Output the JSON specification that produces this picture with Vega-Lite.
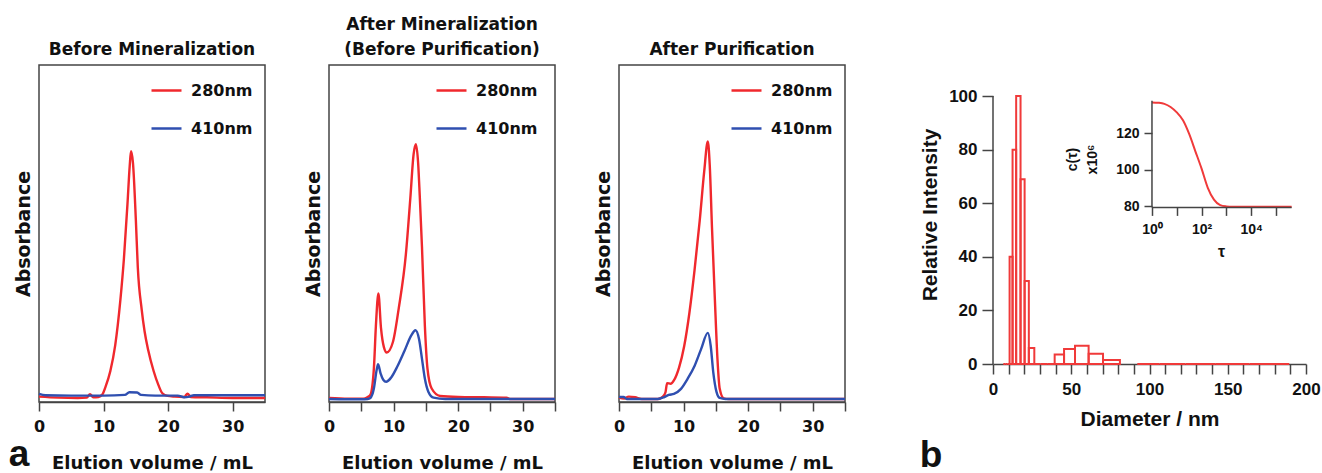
{
  "$schema": "https://vega.github.io/schema/vega-lite/v6.json",
  "background": "white",
  "padding": {"left": 7, "top": 15, "right": 0, "bottom": 0},
  "config": {
    "font": "DejaVu Sans",
    "axis": {"grid": false, "domainColor": "#444", "tickColor": "#444", "labelColor": "#111", "titleColor": "#111", "domainWidth": 1.5, "tickWidth": 1.5, "labelFlush": false, "labelOverlap": false, "labelBound": false},
    "title": {"color": "#111"}
  },
  "datasets": {
    "chrom": [
      {"panel": "before", "series": "280nm", "v": 0, "a": 1.6},
      {"panel": "before", "series": "280nm", "v": 3, "a": 1.3},
      {"panel": "before", "series": "280nm", "v": 6, "a": 1.2},
      {"panel": "before", "series": "280nm", "v": 7.4, "a": 1.3},
      {"panel": "before", "series": "280nm", "v": 7.9, "a": 2.3},
      {"panel": "before", "series": "280nm", "v": 8.4, "a": 1.4},
      {"panel": "before", "series": "280nm", "v": 9.2, "a": 1.5},
      {"panel": "before", "series": "280nm", "v": 9.8, "a": 2.2},
      {"panel": "before", "series": "280nm", "v": 10.3, "a": 4.5},
      {"panel": "before", "series": "280nm", "v": 11.05, "a": 9.2},
      {"panel": "before", "series": "280nm", "v": 11.8, "a": 16.8},
      {"panel": "before", "series": "280nm", "v": 12.6, "a": 30.2},
      {"panel": "before", "series": "280nm", "v": 13.15, "a": 42.5},
      {"panel": "before", "series": "280nm", "v": 13.7, "a": 58.7},
      {"panel": "before", "series": "280nm", "v": 14.05, "a": 70.1},
      {"panel": "before", "series": "280nm", "v": 14.25, "a": 74.4},
      {"panel": "before", "series": "280nm", "v": 14.55, "a": 71},
      {"panel": "before", "series": "280nm", "v": 15.0, "a": 54},
      {"panel": "before", "series": "280nm", "v": 15.3, "a": 40},
      {"panel": "before", "series": "280nm", "v": 15.9, "a": 27.5},
      {"panel": "before", "series": "280nm", "v": 16.35, "a": 21},
      {"panel": "before", "series": "280nm", "v": 16.9, "a": 15.5},
      {"panel": "before", "series": "280nm", "v": 17.75, "a": 9.2},
      {"panel": "before", "series": "280nm", "v": 18.5, "a": 5},
      {"panel": "before", "series": "280nm", "v": 19.1, "a": 2.6},
      {"panel": "before", "series": "280nm", "v": 19.9, "a": 1.8},
      {"panel": "before", "series": "280nm", "v": 21, "a": 1.6},
      {"panel": "before", "series": "280nm", "v": 22.5, "a": 1.5},
      {"panel": "before", "series": "280nm", "v": 23, "a": 2.5},
      {"panel": "before", "series": "280nm", "v": 23.5, "a": 1.5},
      {"panel": "before", "series": "280nm", "v": 26, "a": 1.4},
      {"panel": "before", "series": "280nm", "v": 30, "a": 1.2},
      {"panel": "before", "series": "280nm", "v": 35, "a": 1.2},
      {"panel": "before", "series": "410nm", "v": 0, "a": 2.4},
      {"panel": "before", "series": "410nm", "v": 1, "a": 2.0},
      {"panel": "before", "series": "410nm", "v": 5, "a": 1.9},
      {"panel": "before", "series": "410nm", "v": 10, "a": 1.9},
      {"panel": "before", "series": "410nm", "v": 13.3, "a": 2.1},
      {"panel": "before", "series": "410nm", "v": 14, "a": 2.9},
      {"panel": "before", "series": "410nm", "v": 15.2, "a": 2.8},
      {"panel": "before", "series": "410nm", "v": 15.8, "a": 2.1},
      {"panel": "before", "series": "410nm", "v": 18, "a": 1.9},
      {"panel": "before", "series": "410nm", "v": 21.5, "a": 1.9},
      {"panel": "before", "series": "410nm", "v": 22.5, "a": 1.4},
      {"panel": "before", "series": "410nm", "v": 23.3, "a": 1.6},
      {"panel": "before", "series": "410nm", "v": 24, "a": 2.0},
      {"panel": "before", "series": "410nm", "v": 30, "a": 2.0},
      {"panel": "before", "series": "410nm", "v": 35, "a": 2.0},
      {"panel": "after", "series": "280nm", "v": 0, "a": 1.2},
      {"panel": "after", "series": "280nm", "v": 3, "a": 1.0},
      {"panel": "after", "series": "280nm", "v": 5.3, "a": 1.0},
      {"panel": "after", "series": "280nm", "v": 6.0, "a": 1.5},
      {"panel": "after", "series": "280nm", "v": 6.4, "a": 2.1},
      {"panel": "after", "series": "280nm", "v": 6.95, "a": 9.9},
      {"panel": "after", "series": "280nm", "v": 7.26, "a": 22.5},
      {"panel": "after", "series": "280nm", "v": 7.65, "a": 32.2},
      {"panel": "after", "series": "280nm", "v": 8.05, "a": 22},
      {"panel": "after", "series": "280nm", "v": 8.5, "a": 16.3},
      {"panel": "after", "series": "280nm", "v": 8.95, "a": 14.7},
      {"panel": "after", "series": "280nm", "v": 9.9, "a": 17.8},
      {"panel": "after", "series": "280nm", "v": 10.8, "a": 27.8},
      {"panel": "after", "series": "280nm", "v": 11.9, "a": 43.7},
      {"panel": "after", "series": "280nm", "v": 12.6, "a": 60.6},
      {"panel": "after", "series": "280nm", "v": 13.1, "a": 73.5},
      {"panel": "after", "series": "280nm", "v": 13.45, "a": 76.5},
      {"panel": "after", "series": "280nm", "v": 13.8, "a": 71},
      {"panel": "after", "series": "280nm", "v": 14.05, "a": 61.4},
      {"panel": "after", "series": "280nm", "v": 14.4, "a": 46},
      {"panel": "after", "series": "280nm", "v": 14.85, "a": 22.5},
      {"panel": "after", "series": "280nm", "v": 15.25, "a": 9.9},
      {"panel": "after", "series": "280nm", "v": 15.9, "a": 4.0},
      {"panel": "after", "series": "280nm", "v": 17.2, "a": 1.8},
      {"panel": "after", "series": "280nm", "v": 20, "a": 1.5},
      {"panel": "after", "series": "280nm", "v": 24, "a": 1.4},
      {"panel": "after", "series": "280nm", "v": 27.5, "a": 1.3},
      {"panel": "after", "series": "280nm", "v": 28, "a": 0.9},
      {"panel": "after", "series": "280nm", "v": 35, "a": 0.9},
      {"panel": "after", "series": "410nm", "v": 0, "a": 0.9},
      {"panel": "after", "series": "410nm", "v": 5, "a": 0.8},
      {"panel": "after", "series": "410nm", "v": 6.0, "a": 0.9},
      {"panel": "after", "series": "410nm", "v": 6.4, "a": 1.2},
      {"panel": "after", "series": "410nm", "v": 6.95, "a": 4},
      {"panel": "after", "series": "410nm", "v": 7.37, "a": 9.4},
      {"panel": "after", "series": "410nm", "v": 7.6, "a": 11.2},
      {"panel": "after", "series": "410nm", "v": 8.0, "a": 8.4},
      {"panel": "after", "series": "410nm", "v": 8.4, "a": 6.6},
      {"panel": "after", "series": "410nm", "v": 8.85, "a": 6.0},
      {"panel": "after", "series": "410nm", "v": 9.6, "a": 7.2},
      {"panel": "after", "series": "410nm", "v": 10.6, "a": 10.6},
      {"panel": "after", "series": "410nm", "v": 11.7, "a": 15.2},
      {"panel": "after", "series": "410nm", "v": 12.7, "a": 19.6},
      {"panel": "after", "series": "410nm", "v": 13.4, "a": 21.3},
      {"panel": "after", "series": "410nm", "v": 13.95, "a": 18.6},
      {"panel": "after", "series": "410nm", "v": 14.4, "a": 12.8},
      {"panel": "after", "series": "410nm", "v": 14.85, "a": 6.9},
      {"panel": "after", "series": "410nm", "v": 15.4, "a": 3.0},
      {"panel": "after", "series": "410nm", "v": 16.2, "a": 1.3},
      {"panel": "after", "series": "410nm", "v": 18, "a": 0.9},
      {"panel": "after", "series": "410nm", "v": 35, "a": 0.9},
      {"panel": "purified", "series": "280nm", "v": 0, "a": 1.3},
      {"panel": "purified", "series": "280nm", "v": 0.8, "a": 1.0},
      {"panel": "purified", "series": "280nm", "v": 1.5, "a": 1.6},
      {"panel": "purified", "series": "280nm", "v": 2.5, "a": 1.4},
      {"panel": "purified", "series": "280nm", "v": 3.5, "a": 0.9},
      {"panel": "purified", "series": "280nm", "v": 6, "a": 0.9},
      {"panel": "purified", "series": "280nm", "v": 6.8, "a": 1.6},
      {"panel": "purified", "series": "280nm", "v": 7.2, "a": 2.9},
      {"panel": "purified", "series": "280nm", "v": 7.45, "a": 5.6},
      {"panel": "purified", "series": "280nm", "v": 8.0, "a": 5.4},
      {"panel": "purified", "series": "280nm", "v": 8.5, "a": 6.4},
      {"panel": "purified", "series": "280nm", "v": 9.3, "a": 10.2},
      {"panel": "purified", "series": "280nm", "v": 10.1, "a": 16.6},
      {"panel": "purified", "series": "280nm", "v": 10.9, "a": 26.4},
      {"panel": "purified", "series": "280nm", "v": 11.7, "a": 39.1},
      {"panel": "purified", "series": "280nm", "v": 12.5, "a": 53.8},
      {"panel": "purified", "series": "280nm", "v": 13.2, "a": 68.5},
      {"panel": "purified", "series": "280nm", "v": 13.75, "a": 77.3},
      {"panel": "purified", "series": "280nm", "v": 14.05, "a": 70.4},
      {"panel": "purified", "series": "280nm", "v": 14.4, "a": 51.8},
      {"panel": "purified", "series": "280nm", "v": 14.85, "a": 30.3},
      {"panel": "purified", "series": "280nm", "v": 15.25, "a": 12.7},
      {"panel": "purified", "series": "280nm", "v": 15.6, "a": 3.9},
      {"panel": "purified", "series": "280nm", "v": 16.2, "a": 1.1},
      {"panel": "purified", "series": "280nm", "v": 17, "a": 0.9},
      {"panel": "purified", "series": "280nm", "v": 35, "a": 0.9},
      {"panel": "purified", "series": "410nm", "v": 0, "a": 1.5},
      {"panel": "purified", "series": "410nm", "v": 0.7, "a": 1.5},
      {"panel": "purified", "series": "410nm", "v": 1.2, "a": 0.9},
      {"panel": "purified", "series": "410nm", "v": 6, "a": 0.9},
      {"panel": "purified", "series": "410nm", "v": 6.95, "a": 1.4},
      {"panel": "purified", "series": "410nm", "v": 7.7, "a": 2.1},
      {"panel": "purified", "series": "410nm", "v": 8.5, "a": 2.4},
      {"panel": "purified", "series": "410nm", "v": 9.6, "a": 3.9},
      {"panel": "purified", "series": "410nm", "v": 10.6, "a": 6.8},
      {"panel": "purified", "series": "410nm", "v": 11.7, "a": 10.7},
      {"panel": "purified", "series": "410nm", "v": 12.7, "a": 15.6},
      {"panel": "purified", "series": "410nm", "v": 13.75, "a": 20.5},
      {"panel": "purified", "series": "410nm", "v": 14.2, "a": 16.7},
      {"panel": "purified", "series": "410nm", "v": 14.6, "a": 8.8},
      {"panel": "purified", "series": "410nm", "v": 15.1, "a": 3.0},
      {"panel": "purified", "series": "410nm", "v": 15.6, "a": 1.2},
      {"panel": "purified", "series": "410nm", "v": 16.5, "a": 0.9},
      {"panel": "purified", "series": "410nm", "v": 35, "a": 0.9}
    ],
    "dls": [
      {"d0": 6.6, "d1": 8.0, "h": 0},
      {"d0": 8.0, "d1": 9.3, "h": 0},
      {"d0": 9.3, "d1": 10.6, "h": 0},
      {"d0": 10.6, "d1": 12.5, "h": 40},
      {"d0": 12.5, "d1": 14.8, "h": 80},
      {"d0": 14.8, "d1": 17.6, "h": 100},
      {"d0": 17.6, "d1": 20.2, "h": 69},
      {"d0": 20.2, "d1": 22.9, "h": 31},
      {"d0": 22.9, "d1": 26.4, "h": 6},
      {"d0": 26.4, "d1": 30.2, "h": 0},
      {"d0": 30.2, "d1": 34.6, "h": 0},
      {"d0": 34.6, "d1": 39.4, "h": 0},
      {"d0": 39.4, "d1": 45.4, "h": 3.5},
      {"d0": 45.4, "d1": 52.4, "h": 5.6},
      {"d0": 52.4, "d1": 61.1, "h": 6.8},
      {"d0": 61.1, "d1": 70.3, "h": 3.8},
      {"d0": 70.3, "d1": 81.1, "h": 1.5},
      {"d0": 92.2, "d1": 106.5, "h": 0},
      {"d0": 106.5, "d1": 123, "h": 0},
      {"d0": 123, "d1": 142, "h": 0},
      {"d0": 142, "d1": 164, "h": 0},
      {"d0": 164, "d1": 189.3, "h": 0}
    ],
    "acf": [
      {"tau": 1, "c": 136.8},
      {"tau": 1.78, "c": 136.6},
      {"tau": 3.16, "c": 136.0},
      {"tau": 5.62, "c": 134.3},
      {"tau": 10, "c": 131.3},
      {"tau": 17.8, "c": 127},
      {"tau": 31.6, "c": 119.5},
      {"tau": 56.2, "c": 110},
      {"tau": 100, "c": 100.5},
      {"tau": 178, "c": 90},
      {"tau": 316, "c": 83.5},
      {"tau": 562, "c": 80.5},
      {"tau": 1000, "c": 79.8},
      {"tau": 1780, "c": 79.6},
      {"tau": 3160, "c": 79.6},
      {"tau": 10000, "c": 79.6},
      {"tau": 100000, "c": 79.6},
      {"tau": 427000, "c": 79.6}
    ]
  },
  "spacing": 68,
  "hconcat": [
    {
      "spacing": 32,
      "resolve": {"legend": {"color": "independent"}},
      "hconcat": [
        {
          "width": 226, "height": 337,
          "view": {"stroke": "#444", "strokeWidth": 1.5},
          "title": {"text": "Before Mineralization", "font": "DejaVu Sans", "fontSize": 17, "fontWeight": "bold", "offset": 6},
          "layer": [
            {
              "data": {"name": "chrom"},
              "transform": [{"filter": "datum.panel === 'before'"}],
              "mark": {"type": "line", "strokeWidth": 2.4, "interpolate": "monotone"},
              "encoding": {
                "x": {"field": "v", "type": "quantitative", "scale": {"domain": [0, 35], "nice": false, "zero": false},
                  "axis": {"title": "Elution volume / mL", "values": [0, 5, 10, 15, 20, 25, 30, 35], "labelExpr": "datum.value % 10 === 0 ? datum.label : ''", "labelOverlap": false, "tickSize": 9, "labelFont": "DejaVu Sans", "labelFontSize": 16, "labelFontWeight": "bold", "labelPadding": 7, "titleFont": "DejaVu Sans", "titleFontSize": 18, "titleFontWeight": "bold", "titlePadding": 20}},
                "y": {"field": "a", "type": "quantitative", "scale": {"domain": [0, 100], "nice": false},
                  "axis": {"title": "Absorbance", "ticks": false, "labels": false, "domain": false, "titleFont": "DejaVu Sans", "titleFontSize": 19, "titleFontWeight": "bold", "titlePadding": 6}},
                "color": {"field": "series", "type": "nominal", "scale": {"domain": ["280nm", "410nm"], "range": ["#f0282d", "#2f4fb0"]},
                  "legend": {"title": null, "orient": "none", "legendX": 111, "legendY": 9, "padding": 0, "symbolType": "stroke", "symbolSize": 900, "symbolStrokeWidth": 2.5, "labelFont": "DejaVu Sans", "labelFontSize": 16, "labelFontWeight": "bold", "labelColor": "#111", "labelOffset": 8, "rowPadding": 13}}
              }
            },
            {
              "data": {"values": [{}]},
              "mark": {"type": "text", "text": "a", "font": "Liberation Sans", "fontSize": 37, "fontWeight": "bold", "align": "center", "baseline": "alphabetic", "color": "#111"},
              "encoding": {"x": {"datum": -3.1}, "y": {"datum": -19.0}}
            }
          ]
        },
        {
          "width": 226, "height": 337,
          "view": {"stroke": "#444", "strokeWidth": 1.5},
          "title": {"text": ["After Mineralization", "(Before Purification)"], "font": "DejaVu Sans", "fontSize": 17, "fontWeight": "bold", "lineHeight": 25, "offset": 6},
          "data": {"name": "chrom"},
          "transform": [{"filter": "datum.panel === 'after'"}],
          "mark": {"type": "line", "strokeWidth": 2.4, "interpolate": "monotone"},
          "encoding": {
            "x": {"field": "v", "type": "quantitative", "scale": {"domain": [0, 35], "nice": false, "zero": false},
              "axis": {"title": "Elution volume / mL", "values": [0, 5, 10, 15, 20, 25, 30, 35], "labelExpr": "datum.value % 10 === 0 ? datum.label : ''", "labelOverlap": false, "tickSize": 9, "labelFont": "DejaVu Sans", "labelFontSize": 16, "labelFontWeight": "bold", "labelPadding": 7, "titleFont": "DejaVu Sans", "titleFontSize": 18, "titleFontWeight": "bold", "titlePadding": 20}},
            "y": {"field": "a", "type": "quantitative", "scale": {"domain": [0, 100], "nice": false},
              "axis": {"title": "Absorbance", "ticks": false, "labels": false, "domain": false, "titleFont": "DejaVu Sans", "titleFontSize": 19, "titleFontWeight": "bold", "titlePadding": 6}},
            "color": {"field": "series", "type": "nominal", "scale": {"domain": ["280nm", "410nm"], "range": ["#f0282d", "#2f4fb0"]},
              "legend": {"title": null, "orient": "none", "legendX": 106, "legendY": 9, "padding": 0, "symbolType": "stroke", "symbolSize": 900, "symbolStrokeWidth": 2.5, "labelFont": "DejaVu Sans", "labelFontSize": 16, "labelFontWeight": "bold", "labelColor": "#111", "labelOffset": 8, "rowPadding": 13}}
          }
        },
        {
          "width": 226, "height": 337,
          "view": {"stroke": "#444", "strokeWidth": 1.5},
          "title": {"text": "After Purification", "font": "DejaVu Sans", "fontSize": 17, "fontWeight": "bold", "offset": 6},
          "data": {"name": "chrom"},
          "transform": [{"filter": "datum.panel === 'purified'"}],
          "mark": {"type": "line", "strokeWidth": 2.4, "interpolate": "monotone"},
          "encoding": {
            "x": {"field": "v", "type": "quantitative", "scale": {"domain": [0, 35], "nice": false, "zero": false},
              "axis": {"title": "Elution volume / mL", "values": [0, 5, 10, 15, 20, 25, 30, 35], "labelExpr": "datum.value % 10 === 0 ? datum.label : ''", "labelOverlap": false, "tickSize": 9, "labelFont": "DejaVu Sans", "labelFontSize": 16, "labelFontWeight": "bold", "labelPadding": 7, "titleFont": "DejaVu Sans", "titleFontSize": 18, "titleFontWeight": "bold", "titlePadding": 20}},
            "y": {"field": "a", "type": "quantitative", "scale": {"domain": [0, 100], "nice": false},
              "axis": {"title": "Absorbance", "ticks": false, "labels": false, "domain": false, "titleFont": "DejaVu Sans", "titleFontSize": 19, "titleFontWeight": "bold", "titlePadding": 6}},
            "color": {"field": "series", "type": "nominal", "scale": {"domain": ["280nm", "410nm"], "range": ["#f0282d", "#2f4fb0"]},
              "legend": {"title": null, "orient": "none", "legendX": 111, "legendY": 9, "padding": 0, "symbolType": "stroke", "symbolSize": 900, "symbolStrokeWidth": 2.5, "labelFont": "DejaVu Sans", "labelFontSize": 16, "labelFontWeight": "bold", "labelColor": "#111", "labelOffset": 8, "rowPadding": 13}}
          }
        }
      ]
    },
    {
      "width": 313, "height": 299,
      "view": {"stroke": null},
      "layer": [
        {
          "resolve": {"axis": {"x": "independent"}},
          "layer": [
            {
              "data": {"name": "dls"},
              "mark": {"type": "rect", "filled": false, "color": "#f03a3a", "strokeWidth": 2},
              "encoding": {
                "x": {"field": "d0", "type": "quantitative", "scale": {"domain": [0, 200], "nice": false},
                  "axis": {"orient": "bottom", "title": "Diameter / nm", "values": [0, 50, 100, 150, 200], "labelOverlap": false, "tickSize": 10, "labelFont": "Liberation Sans", "labelFontSize": 17, "labelFontWeight": "bold", "labelPadding": 7, "titleFont": "Liberation Sans", "titleFontSize": 21, "titleFontWeight": "bold", "titlePadding": 11}},
                "x2": {"field": "d1"},
                "y": {"field": "h", "type": "quantitative", "scale": {"domain": [0, 111.6], "nice": false},
                  "axis": {"title": "Relative Intensity", "values": [0, 20, 40, 60, 80, 100], "labelOverlap": false, "domain": false, "tickSize": 11, "labelFont": "Liberation Sans", "labelFontSize": 17, "labelFontWeight": "bold", "labelPadding": 5, "titleFont": "Liberation Sans", "titleFontSize": 21, "titleFontWeight": "bold", "titlePadding": 8}},
                "y2": {"datum": 0}
              }
            },
            {
              "data": {"values": [{}]},
              "mark": {"type": "rule", "color": "#444", "strokeWidth": 1.5},
              "encoding": {
                "x": {"datum": 0, "type": "quantitative", "axis": {"orient": "bottom", "title": null, "labels": false, "domain": false, "values": [10, 20, 30, 40, 60, 70, 80, 90, 110, 120, 130, 140, 160, 170, 180, 190], "tickSize": 10}},
                "y": {"datum": 0}, "y2": {"datum": 100}
              }
            },
            {
              "data": {"values": [{}]},
              "mark": {"type": "text", "text": "b", "font": "Liberation Sans", "fontSize": 37, "fontWeight": "bold", "align": "center", "baseline": "alphabetic", "color": "#111"},
              "encoding": {"x": {"datum": -39.6, "type": "quantitative", "axis": null}, "y": {"datum": -38.4}}
            }
          ]
        },
        {
          "layer": [
            {
              "data": {"name": "acf"},
              "mark": {"type": "line", "color": "#f03a3a", "strokeWidth": 2, "interpolate": "monotone"},
              "encoding": {
                "x": {"field": "tau", "type": "quantitative", "scale": {"type": "log", "domain": [3.9e-7, 1.62e6], "nice": false},
                  "axis": {"orient": "bottom", "offset": -156.6, "title": "τ", "values": [1, 10, 100, 1000, 10000, 100000], "labelExpr": "datum.value === 1 ? '10⁰' : datum.value === 100 ? '10²' : datum.value === 10000 ? '10⁴' : ''", "labelOverlap": false, "domain": false, "tickSize": 8, "labelFont": "Liberation Sans", "labelFontSize": 14, "labelFontWeight": "bold", "labelPadding": 7, "titleFont": "Liberation Sans", "titleFontSize": 16, "titleFontWeight": "bold", "titleX": 228, "titleY": 36, "titleBaseline": "top", "titleAlign": "center"}},
                "y": {"field": "c", "type": "quantitative", "scale": {"domain": [-6.6, 157.3], "nice": false, "zero": false},
                  "axis": {"orient": "left", "offset": -159, "title": ["c(τ)", "x10⁶"], "values": [80, 100, 120], "labelOverlap": false, "domain": false, "tickSize": 8, "labelFont": "Liberation Sans", "labelFontSize": 14, "labelFontWeight": "bold", "labelPadding": 5, "titleFont": "Liberation Sans", "titleFontSize": 14, "titleFontWeight": "bold", "titleX": -80, "titleY": 94, "titleAngle": -90, "titleAlign": "center", "titleBaseline": "middle", "titleLineHeight": 20}}
              }
            },
            {
              "data": {"values": [{}]},
              "mark": {"type": "rule", "color": "#444", "strokeWidth": 1.5},
              "encoding": {"x": {"datum": 1}, "y": {"datum": 79.2}, "y2": {"datum": 137.7}}
            },
            {
              "data": {"values": [{}]},
              "mark": {"type": "rule", "color": "#444", "strokeWidth": 1.5},
              "encoding": {"x": {"datum": 1}, "x2": {"datum": 427000}, "y": {"datum": 79.2}}
            }
          ]
        }
      ],
      "resolve": {"scale": {"x": "independent", "y": "independent"}, "axis": {"x": "independent", "y": "independent"}}
    }
  ]
}
